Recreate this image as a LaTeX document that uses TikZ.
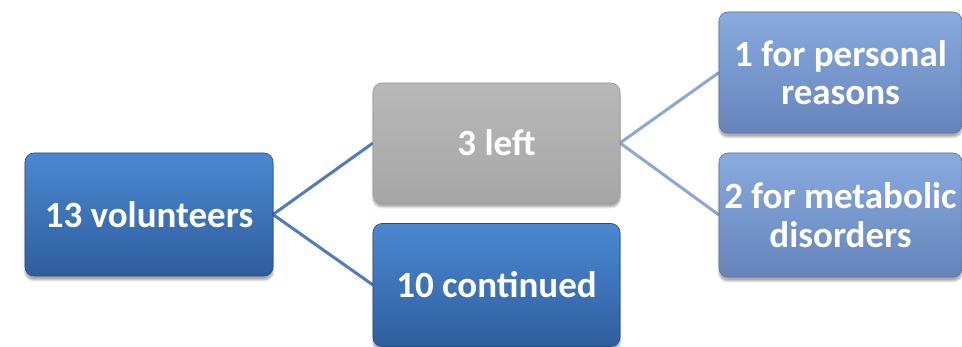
\documentclass[tikz,border=0pt]{standalone}
\usepackage{fontspec}
\setmainfont{Carlito}
\usetikzlibrary{shadows.blur}
\definecolor{darkblueTop}{HTML}{4B88D2}
\definecolor{darkblueBot}{HTML}{2F5E9E}
\definecolor{greyTop}{HTML}{B8B8B8}
\definecolor{greyBot}{HTML}{A6A6A6}
\definecolor{lightTop}{HTML}{8AABDF}
\definecolor{lightBot}{HTML}{6484BB}
\definecolor{linkDark}{HTML}{4F7DBA}
\definecolor{linkLight}{HTML}{8DA8D6}
\tikzset{
  box/.style={rounded corners=9pt, inner sep=0pt, align=center,
    text=white, font=\fontsize{37}{38.5}\selectfont\bfseries,
    blur shadow={shadow xshift=0pt, shadow yshift=-4pt, shadow blur steps=6,
      shadow opacity=35}},
  darkbox/.style={box, top color=darkblueTop, bottom color=darkblueBot,
    draw=darkblueBot!80!black, line width=0.6pt},
  greybox/.style={box, top color=greyTop, bottom color=greyBot,
    draw=gray!80, line width=0.6pt},
  lightbox/.style={box, top color=lightTop, bottom color=lightBot,
    draw=lightBot!85!black, line width=0.6pt},
  linkA/.style={draw=linkDark, line width=3pt},
  linkB/.style={draw=linkLight, line width=3pt}
}
\begin{document}
\begin{tikzpicture}[x=1pt,y=1pt]
\useasboundingbox (0,0) rectangle (962,347);
% connectors first, boxes on top
\coordinate (v) at (273,132.5);
\coordinate (l1) at (373,204);
\coordinate (c1) at (373,62);
\coordinate (l2) at (620,204);
\coordinate (p1) at (719,274.5);
\coordinate (m1) at (719,132);
\draw[linkA] (l1) -- (v) -- (c1);
\draw[linkB] (p1) -- (l2) -- (m1);
% boxes
\node[darkbox, minimum width=248pt, minimum height=123pt] (vol) at (149,132.5) {13 volunteers};
\node[greybox, minimum width=247pt, minimum height=120pt] (left) at (496.5,204) {3 left};
\node[darkbox, minimum width=247pt, minimum height=123pt] (cont) at (496.5,62) {10 continued};
\node[lightbox, minimum width=243pt, minimum height=121pt] (pers) at (840.5,274.5) {1 for personal\\reasons};
\node[lightbox, minimum width=243pt, minimum height=124pt] (meta) at (840.5,132) {2 for metabolic\\disorders};
\end{tikzpicture}
\end{document}
